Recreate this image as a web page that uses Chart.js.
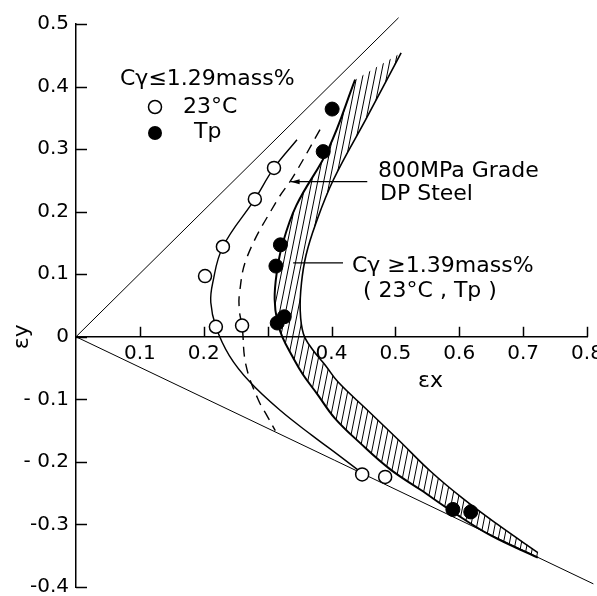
<!DOCTYPE html>
<html>
<head>
<meta charset="utf-8">
<script src="https://cdn.jsdelivr.net/npm/chart.js@4/dist/chart.umd.min.js"></script>
<style>
  html, body { margin: 0; padding: 0; background: #fff; }
  canvas { display: block; }
</style>
</head>
<body>
<canvas id="chart" width="597" height="596"></canvas>
<script>
// strain paths of 800MPa grade DP steel (ex, ey)

const equiBiaxial = [[0, 0], [0.505, 0.51]];
const uniaxial = [[0, 0], [0.81, -0.395]];

// Cγ <= 1.29 mass%, 23°C (open) and Tp (filled)
const open23 = [[0.310, 0.270], [0.280, 0.220], [0.230, 0.144], [0.202, 0.097],
  [0.219, 0.016], [0.260, 0.018], [0.448, -0.220], [0.484, -0.224]];
const filledTp = [[0.401, 0.364], [0.387, 0.296], [0.320, 0.147], [0.313, 0.113],
  [0.326, 0.032], [0.315, 0.022], [0.590, -0.276], [0.618, -0.280]];

// fitted curves
const curve23 = [[0.346, 0.315], [0.310, 0.270], [0.280, 0.220], [0.230, 0.144],
  [0.214, 0.086], [0.211, 0.055], [0.219, 0.016], [0.240, -0.030], [0.272, -0.072],
  [0.320, -0.118], [0.370, -0.158], [0.412, -0.190], [0.448, -0.218]];
const curveTp = [[0.382, 0.331], [0.340, 0.256], [0.313, 0.215], [0.268, 0.128],
  [0.256, 0.070], [0.256, 0.040], [0.260, 0.018], [0.266, -0.045], [0.285, -0.100],
  [0.300, -0.128], [0.312, -0.150]];

// Cγ >= 1.39 mass% band (23°C, Tp)
const bandLeft = [[0.437, 0.411], [0.395, 0.300], [0.345, 0.210], [0.323, 0.147],
  [0.314, 0.100], [0.311, 0.060], [0.315, 0.025], [0.323, 0.000], [0.338, -0.030],
  [0.355, -0.060], [0.378, -0.092], [0.405, -0.130], [0.445, -0.170], [0.492, -0.212],
  [0.540, -0.245], [0.590, -0.280], [0.650, -0.318], [0.723, -0.353]];
const bandRight = [[0.509, 0.454], [0.455, 0.350], [0.403, 0.251], [0.375, 0.180],
  [0.360, 0.130], [0.353, 0.086], [0.351, 0.043], [0.356, 0.005], [0.370, -0.020],
  [0.390, -0.045], [0.410, -0.072], [0.456, -0.117], [0.505, -0.165], [0.555, -0.215],
  [0.605, -0.258], [0.660, -0.300], [0.723, -0.345]];

const xTickLabels = ['', '0.1', '0.2', '', '0.4', '0.5', '0.6', '0.7', '0.8'];
const yTickLabels = ['-0.4', '-0.3', '- 0.2', '- 0.1', '0', '0.1', '0.2', '0.3', '0.4', '0.5'];

const FONT = "'DejaVu Sans', sans-serif";

const pts = arr => arr.map(p => ({x: p[0], y: p[1]}));

function hatchPattern() {
  const c = document.createElement('canvas');
  c.width = 6; c.height = 30;
  const g = c.getContext('2d');
  g.strokeStyle = '#000';
  g.lineWidth = 1;
  for (let n = -2; n <= 2; n++) {
    g.beginPath();
    g.moveTo(6 * n - 6, 60);
    g.lineTo(6 * n + 12, -30);
    g.stroke();
  }
  return g.createPattern(c, 'repeat');
}

function lineSet(arr, width, dash, tension) {
  return {
    data: pts(arr), showLine: true, pointRadius: 0, borderColor: '#000',
    borderWidth: width, borderDash: dash || [], tension: tension || 0, fill: false, clip: 12
  };
}

const texts = [
  ['Cγ≤1.29mass%', 120, 85],
  ['23°C', 183, 113],
  ['Tp', 194, 138],
  ['800MPa Grade', 378, 177],
  ['DP Steel', 380, 200],
  ['Cγ ≥1.39mass%', 352, 272],
  ['( 23°C , Tp )', 363, 297],
  ['εx', 418, 387]
];

// leader lines, in data units
const leaderDP = [[0.336, 0.248], [0.456, 0.248]];
const leaderBand = [[0.340, 0.118], [0.418, 0.118]];

const decor = {
  id: 'decor',
  afterDraw(chart) {
    const {ctx, chartArea, scales: {x, y}} = chart;
    ctx.save();
    ctx.strokeStyle = '#000';
    ctx.fillStyle = '#000';
    ctx.lineWidth = 1.5;
    const y0 = y.getPixelForValue(0);
    // tick marks drawn inward
    x.ticks.forEach(t => {
      if (t.value === 0) return;
      const px = Math.round(x.getPixelForValue(t.value)) + 0.5;
      ctx.beginPath(); ctx.moveTo(px, y0); ctx.lineTo(px, y0 - 10); ctx.stroke();
    });
    y.ticks.forEach(t => {
      const py = Math.round(y.getPixelForValue(t.value)) + 0.5;
      ctx.beginPath(); ctx.moveTo(chartArea.left, py); ctx.lineTo(chartArea.left + 11, py); ctx.stroke();
    });

    // leaders
    ctx.lineWidth = 1.2;
    [leaderDP, leaderBand].forEach(l => {
      ctx.beginPath();
      ctx.moveTo(x.getPixelForValue(l[0][0]), y.getPixelForValue(l[0][1]));
      ctx.lineTo(x.getPixelForValue(l[1][0]), y.getPixelForValue(l[1][1]));
      ctx.stroke();
    });
    const ax = x.getPixelForValue(leaderDP[0][0]), ay = y.getPixelForValue(leaderDP[0][1]);
    ctx.beginPath();
    ctx.moveTo(ax, ay); ctx.lineTo(ax + 9, ay - 2.5); ctx.lineTo(ax + 9, ay + 2.5); ctx.closePath();
    ctx.fill();

    // legend symbols
    ctx.lineWidth = 1.5;
    ctx.beginPath(); ctx.arc(155, 107, 6.5, 0, Math.PI * 2); ctx.stroke();
    ctx.beginPath(); ctx.arc(155, 133, 7, 0, Math.PI * 2); ctx.fill();

    ctx.font = '22px ' + FONT;
    ctx.textBaseline = 'alphabetic';
    ctx.textAlign = 'left';
    texts.forEach(t => ctx.fillText(t[0], t[1], t[2]));

    // y title
    ctx.translate(22, y0);
    ctx.rotate(-Math.PI / 2);
    ctx.textAlign = 'center';
    ctx.textBaseline = 'middle';
    ctx.fillText('εy', 0, 0);
    ctx.restore();
  }
};

const tickFont = {family: FONT, size: 20};

new Chart(document.getElementById('chart'), {
  type: 'scatter',
  data: {
    datasets: [
      {data: pts(filledTp), pointRadius: 7, pointBackgroundColor: '#000', pointBorderColor: '#000', pointBorderWidth: 1, clip: 12},
      {data: pts(open23), pointRadius: 6.5, pointBackgroundColor: '#fff', pointBorderColor: '#000', pointBorderWidth: 1.5, clip: 12},
      lineSet(bandLeft, 2, null, 0.4),
      lineSet(bandRight, 1.6, null, 0.4),
      lineSet(curve23, 1.4, null, 0.4),
      lineSet(curveTp, 1.4, [10, 7], 0.4),
      lineSet(equiBiaxial, 1),
      lineSet(uniaxial, 1),
      {
        data: pts(bandLeft.concat(bandRight.slice().reverse())), showLine: true, pointRadius: 0,
        borderColor: 'rgba(0,0,0,0)', borderWidth: 1, tension: 0.4,
        fill: 'shape', backgroundColor: hatchPattern(), clip: 12
      }
    ]
  },
  options: {
    responsive: false,
    animation: false,
    events: [],
    layout: {padding: {top: 24, right: 10, bottom: 9, left: 0}},
    plugins: {legend: {display: false}, tooltip: {enabled: false}},
    scales: {
      x: {
        type: 'linear', min: 0, max: 0.8, position: {y: 0},
        grid: {display: false, drawTicks: false},
        border: {display: true, color: '#000', width: 1.5},
        ticks: {
          stepSize: 0.1, autoSkip: false, maxRotation: 0, padding: 5, color: '#000', font: tickFont,
          callback: v => xTickLabels[Math.round(v * 10)]
        },
        afterFit(s) { s.paddingLeft = 0; s.paddingRight = 0; }
      },
      y: {
        type: 'linear', min: -0.4, max: 0.5, position: 'left',
        grid: {display: false, drawTicks: false},
        border: {display: true, color: '#000', width: 1.5},
        ticks: {
          stepSize: 0.1, autoSkip: false, padding: 7, color: '#000', font: tickFont,
          callback: v => yTickLabels[Math.round(v * 10) + 4]
        },
        afterFit(s) { s.width = 76; s.paddingTop = 0; s.paddingBottom = 0; }
      }
    }
  },
  plugins: [decor]
});
</script>
</body>
</html>
